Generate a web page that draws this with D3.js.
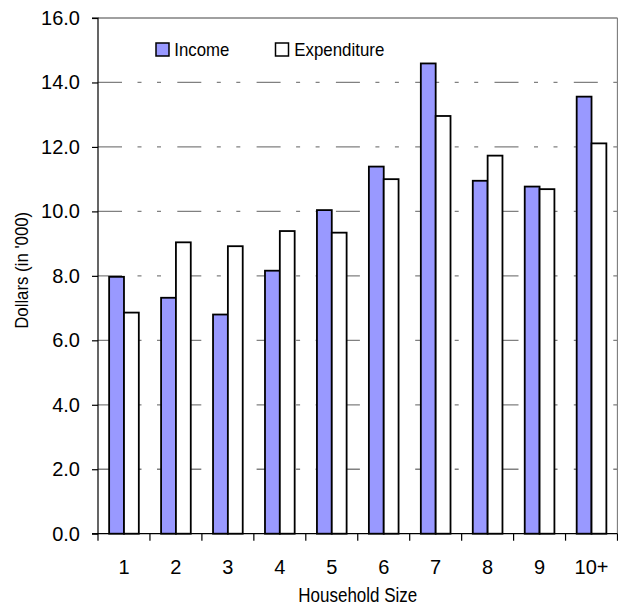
<!DOCTYPE html>
<html><head><meta charset="utf-8">
<script src="https://cdn.jsdelivr.net/npm/d3@7"></script>
<style>
html,body{margin:0;padding:0;background:#fff;}
svg{display:block;font-family:"Liberation Sans",Arial,sans-serif;}
</style></head>
<body><svg id="c" width="618" height="608"></svg>
<script>
const categories = ["1","2","3","4","5","6","7","8","9","10+"];
const income = [7.97, 7.32, 6.80, 8.16, 10.04, 11.39, 14.59, 10.95, 10.77, 13.56];
const expenditure = [6.86, 9.04, 8.92, 9.39, 9.34, 11.00, 12.96, 11.73, 10.69, 12.11];
const yTicks = [0,2,4,6,8,10,12,14,16];
const seriesNames = ["Income","Expenditure"];

const svg = d3.select("#c");
const L = 98, R = 617.5, T = 18, B = 533.7;
const x = d3.scaleBand().domain(categories).range([L, R]).padding(0);
const y = d3.scaleLinear().domain([0,16]).range([B, T]);
const bw = x.bandwidth(), w = bw/3.5;

// gridlines
svg.append("g").selectAll("line").data(yTicks.filter(d=>d>0&&d<16)).join("line")
  .attr("x1", L).attr("x2", R).attr("y1", d=>y(d)).attr("y2", d=>y(d))
  .attr("stroke", "#808080").attr("stroke-width", 1.3)
  .attr("stroke-dasharray", "24,15.5,4,15.5,4,16.3");

// top & right border
svg.append("line").attr("x1",L).attr("x2",R).attr("y1",T).attr("y2",T).attr("stroke","#808080").attr("stroke-width",1.3);
svg.append("line").attr("x1",R).attr("x2",R).attr("y1",T).attr("y2",B).attr("stroke","#808080").attr("stroke-width",1.3);

// bars
const colors = ["#9999FF","#FFFFFF"];
[income, expenditure].forEach((vals, si) => {
  svg.append("g").selectAll("rect").data(vals).join("rect")
    .attr("x", (d,i)=> x(categories[i]) + 0.75*w + si*w)
    .attr("y", d=>y(d)).attr("width", w).attr("height", d=>y(0)-y(d))
    .attr("fill", colors[si]).attr("stroke","#000").attr("stroke-width",1.8);
});

// y axis
const yAxis = d3.axisLeft(y).tickValues(yTicks).tickFormat(d3.format(".1f")).tickSize(6).tickPadding(12);
const gy = svg.append("g").attr("transform",`translate(${L},0)`).call(yAxis);
gy.select(".domain").attr("d", `M-6,${T}H0V${B}H-6`).attr("stroke","#000").attr("stroke-width",1.2);
gy.selectAll(".tick line").attr("stroke","#000").attr("stroke-width",1.2);
gy.selectAll("text").attr("font-size",20).attr("font-family","Liberation Sans, Arial, sans-serif").attr("fill","#000");

// x axis
const bandTicks = d3.range(categories.length+1).map(i=>L+i*bw);
svg.append("line").attr("x1",L).attr("x2",R).attr("y1",B).attr("y2",B).attr("stroke","#000").attr("stroke-width",1.2);
svg.append("g").selectAll("line").data(bandTicks).join("line")
  .attr("x1",d=>d).attr("x2",d=>d).attr("y1",B).attr("y2",B+7).attr("stroke","#000").attr("stroke-width",1.2);
svg.append("g").selectAll("text").data(categories).join("text")
  .attr("x", d=>x(d)+bw/2).attr("y", 573.5).attr("text-anchor","middle")
  .attr("font-size",20).attr("fill","#000").text(d=>d);

// axis titles
svg.append("text").attr("x",357.8).attr("y",602).attr("text-anchor","middle")
  .attr("font-size",19.5).attr("textLength",119).attr("lengthAdjust","spacingAndGlyphs").text("Household Size");
svg.append("text").attr("transform","translate(28,270.3) rotate(-90)").attr("text-anchor","middle")
  .attr("font-size",19).attr("textLength",117).attr("lengthAdjust","spacingAndGlyphs").text("Dollars (in '000)");

// legend
const leg = [{bx:156, tx:174.3, tl:55}, {bx:275.5, tx:294.3, tl:90}];
leg.forEach((l,i)=>{
  svg.append("rect").attr("x",l.bx).attr("y",43).attr("width",13).attr("height",13)
    .attr("fill",colors[i]).attr("stroke","#000").attr("stroke-width",1.5);
  svg.append("text").attr("x",l.tx).attr("y",56).attr("font-size",18.5)
    .attr("textLength",l.tl).attr("lengthAdjust","spacingAndGlyphs").text(seriesNames[i]);
});
</script></body></html>
